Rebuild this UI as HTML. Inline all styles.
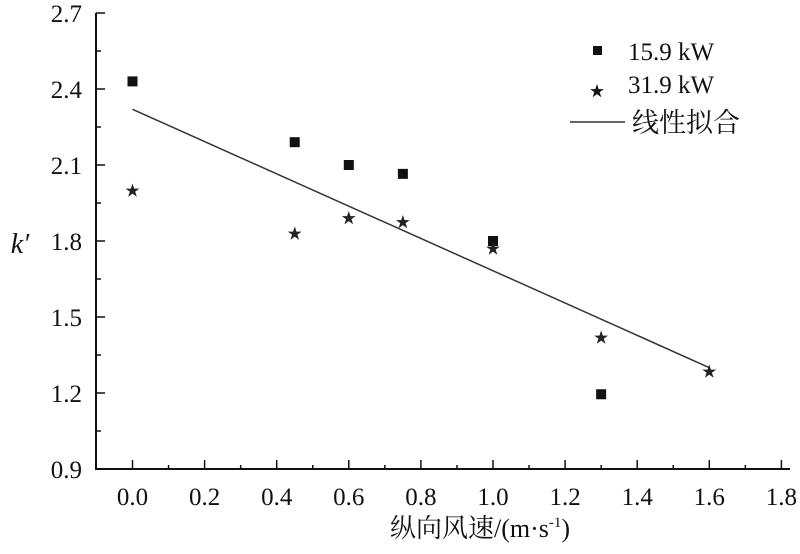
<!DOCTYPE html>
<html><head><meta charset="utf-8"><style>
body{margin:0;background:#fff;}
svg{display:block;font-family:"Liberation Serif","Noto Serif CJK SC",serif;}
</style></head><body>
<svg id="c" width="800" height="554">
<g id="axes"></g><g id="marks"></g>
<g>
<rect x="593" y="46" width="9" height="9" fill="#111"/>
<text x="628" y="60" font-size="25" fill="#111">15.9 kW</text>
<text x="597" y="96" font-size="15" text-anchor="middle" fill="#111">★</text>
<text x="628" y="93" font-size="25" fill="#111">31.9 kW</text>
<line x1="570" y1="122" x2="625" y2="122" stroke="#333" stroke-width="1.5"/>
<text x="632" y="132" font-size="27" fill="#111">线性拟合</text>
</g>
<text x="20" y="253" font-size="28" font-style="italic" text-anchor="middle" fill="#111">k′</text>
<text x="480" y="537" font-size="26" text-anchor="middle" fill="#111">纵向风速/(m·s<tspan font-size="15" dy="-10">-1</tspan><tspan dy="10">)</tspan></text>
</svg>
<script>
const xTicks=[0.0,0.2,0.4,0.6,0.8,1.0,1.2,1.4,1.6,1.8];
const yTicks=[0.9,1.2,1.5,1.8,2.1,2.4,2.7];
const sqX=[0,0.45,0.6,0.75,1.0,1.3];
const sqY=[2.43,2.19,2.10,2.065,1.80,1.195];
const stX=[0,0.45,0.6,0.75,1.0,1.3,1.6];
const stY=[2.0,1.83,1.89,1.875,1.77,1.42,1.285];
const fitX=[0,1.6];
const fitY=[2.32,1.30];
const NS="http://www.w3.org/2000/svg";
const X=v=>132.5+v*360.5;
const Y=v=>469-(v-0.9)*(456/1.8);
function mk(t,p,a){const e=document.createElementNS(NS,t);for(const k in a)e.setAttribute(k,a[k]);p.appendChild(e);return e;}
const ax=document.getElementById('axes'),mg=document.getElementById('marks');
let l=mk('line',ax,{x1:96,y1:13,x2:96,y2:470,stroke:'#111','stroke-width':2});


l=mk('line',ax,{x1:95,y1:469,x2:790,y2:469,stroke:'#111','stroke-width':2});


xTicks.forEach((v,i)=>{
 const t=mk('line',ax,{x1:X(v),y1:469,x2:X(v),y2:460,stroke:'#111','stroke-width':1.5});
 
 
 if(i<xTicks.length-1){const m=mk('line',ax,{x1:X(v+0.1),y1:469,x2:X(v+0.1),y2:465,stroke:'#111','stroke-width':1.5});
 
 }
 const s=mk('text',ax,{x:X(v),y:505,'font-size':25,'text-anchor':'middle',fill:'#111'});s.textContent=v.toFixed(1);
 
 
});
yTicks.forEach((v,i)=>{
 const t=mk('line',ax,{x1:96,y1:Y(v),x2:105,y2:Y(v),stroke:'#111','stroke-width':1.5});
 
 
 if(i<yTicks.length-1){const m=mk('line',ax,{x1:96,y1:Y(v+0.15),x2:101,y2:Y(v+0.15),stroke:'#111','stroke-width':1.5});
 
 }
 const s=mk('text',ax,{x:82,y:Y(v)+9,'font-size':25,'text-anchor':'end',fill:'#111'});s.textContent=v.toFixed(1);
 
 
});
const f=mk('line',mg,{x1:X(fitX[0]),y1:Y(fitY[0]),x2:X(fitX[1]),y2:Y(fitY[1]),stroke:'#333','stroke-width':1.5});


sqX.forEach((v,i)=>{
 const r=mk('rect',mg,{x:X(v)-5,y:Y(sqY[i])-5,width:10,height:10,fill:'#111'});
 
 
});
stX.forEach((v,i)=>{
 const s=mk('text',mg,{x:X(v),y:Y(stY[i])+5,'font-size':15,'text-anchor':'middle',fill:'#222'});s.textContent='★';
 
 
});
</script>
</body></html>
